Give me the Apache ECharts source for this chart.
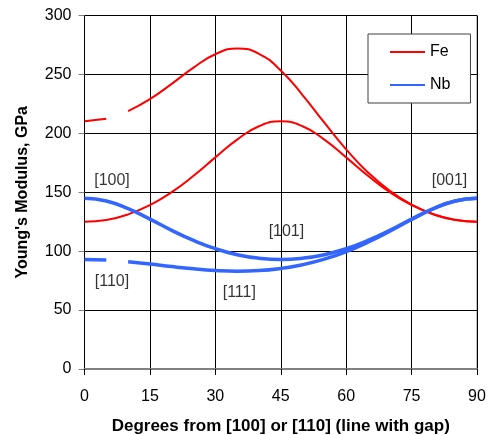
<!DOCTYPE html>
<html>
<head>
<meta charset="utf-8">
<script src="https://cdn.jsdelivr.net/npm/echarts@6/dist/echarts.min.js"></script>
<style>html,body{margin:0;padding:0;background:#fff}#c{width:492px;height:435px}</style>
</head>
<body>
<div id="c"></div>
<script>
// Angles (degrees)
var angles = [0,5,10,15,20,25,30,35,40,45,50,55,60,65,70,75,80,85,90];
// Fe, [100]->[110]
var feA = [125,126.5,131.2,139.1,150.1,164.0,179.6,194.7,206.0,210.2,206.0,194.7,179.6,164.0,150.1,139.1,131.2,126.5,125];
// Fe, [110]->[111]->[001] (line with gap)
var feB = [210.2,212.4,218.8,229.0,242.0,255.8,267.1,272.0,267.5,253.4,232.5,209.0,186.4,166.8,151.2,139.4,131.3,126.6,125];
// Nb, [100]->[110]
var nbA = [145,142.6,136.1,127.2,117.7,109.1,102.1,97.0,94.0,92.9,94.0,97.0,102.1,109.1,117.7,127.2,136.1,142.6,145];
// Nb, [110]->[111]->[001] (line with gap)
var nbB = [92.9,92.4,91.1,89.1,86.9,85.0,83.6,83.0,83.5,85.3,88.5,93.2,99.6,107.7,117.0,126.9,136.0,142.6,145];
var gapFrom = 5, gapTo = 10;
var xTicks = [0,15,30,45,60,75,90];
var yTicks = [0,50,100,150,200,250,300];
var annotations = [
  {text:'[100]', deg:6.3, val:160},
  {text:'[110]', deg:6.3, val:74},
  {text:'[111]', deg:35.5, val:64.5},
  {text:'[101]', deg:46.3, val:116.5},
  {text:'[001]', deg:83.7, val:160}
];

function pairs(ys){ return angles.map(function(a,i){return [a, ys[i]];}); }
function gapped(ys){
  var out = [];
  angles.forEach(function(a,i){
    if (a > gapFrom && a < gapTo) return;
    if (a === gapTo) out.push([ (gapFrom+gapTo)/2, null ]);
    out.push([a, ys[i]]);
  });
  return out;
}

var RED = '#ff0000', BLUE = '#3366ff';
var FONT = 'Liberation Sans, Arial, sans-serif';
var chart = echarts.init(document.getElementById('c'), null, {renderer:'canvas'});
chart.setOption({
  animation:false,
  backgroundColor:'#fff',
  textStyle:{fontFamily:FONT},
  grid:{left:84.5, right:15, top:15.5, bottom:66, containLabel:false, outerBoundsMode:'none',
        show:true, borderColor:'#808080', borderWidth:1},
  legend:{
    left:368, top:34, orient:'vertical',
    padding:[10,20,10,21], itemGap:17, itemWidth:35, itemHeight:14,
    borderColor:'#404040', borderWidth:1, backgroundColor:'#fff',
    itemStyle:{opacity:0},
    textStyle:{fontSize:16, color:'#000', fontFamily:FONT},
    data:['Fe','Nb']
  },
  xAxis:{
    type:'value', min:0, max:90, interval:15,
    name:'Degrees from [100] or [110] (line with gap)', nameLocation:'middle', nameGap:49,
    nameTextStyle:{fontSize:17, fontWeight:'bold', color:'#000', fontFamily:FONT},
    axisLine:{show:true, lineStyle:{color:'#808080', width:2}},
    axisTick:{show:true, length:6, lineStyle:{color:'#000'}},
    axisLabel:{fontSize:16, color:'#000', margin:20, fontFamily:FONT},
    splitLine:{show:true, lineStyle:{color:'#000', width:1}}
  },
  yAxis:{
    type:'value', min:0, max:300, interval:50,
    name:"Young's Modulus, GPa", nameLocation:'middle', nameGap:53.5, nameRotate:90,
    nameTextStyle:{fontSize:16, fontWeight:'bold', color:'#000', fontFamily:FONT},
    axisLine:{show:true, lineStyle:{color:'#000', width:1}},
    axisTick:{show:true, length:6, lineStyle:{color:'#808080'}},
    axisLabel:{fontSize:16, color:'#000', margin:13, fontFamily:FONT},
    splitLine:{show:true, lineStyle:{color:'#000', width:1}}
  },
  series:[
    {name:'Fe', type:'line', smooth:true, symbol:'none', connectNulls:false, data:pairs(feA), lineStyle:{color:RED, width:2}, itemStyle:{color:RED}, z:3},
    {name:'Fe', type:'line', smooth:true, symbol:'none', connectNulls:false, data:gapped(feB), lineStyle:{color:RED, width:2}, itemStyle:{color:RED}, z:3},
    {name:'Nb', type:'line', smooth:true, symbol:'none', connectNulls:false, data:pairs(nbA), lineStyle:{color:BLUE, width:3.5}, itemStyle:{color:BLUE}, z:4},
    {name:'Nb', type:'line', smooth:true, symbol:'none', connectNulls:false, data:gapped(nbB), lineStyle:{color:BLUE, width:3.5}, itemStyle:{color:BLUE}, z:4},
    {name:'labels', type:'scatter', symbolSize:0, silent:true, z:5,
      data:annotations.map(function(a){return {value:[a.deg,a.val], name:a.text};}),
      label:{show:true, position:'inside', formatter:function(p){return p.name;}, fontSize:16, color:'#000', fontFamily:FONT}
    }
  ]
});
</script>
</body>
</html>
